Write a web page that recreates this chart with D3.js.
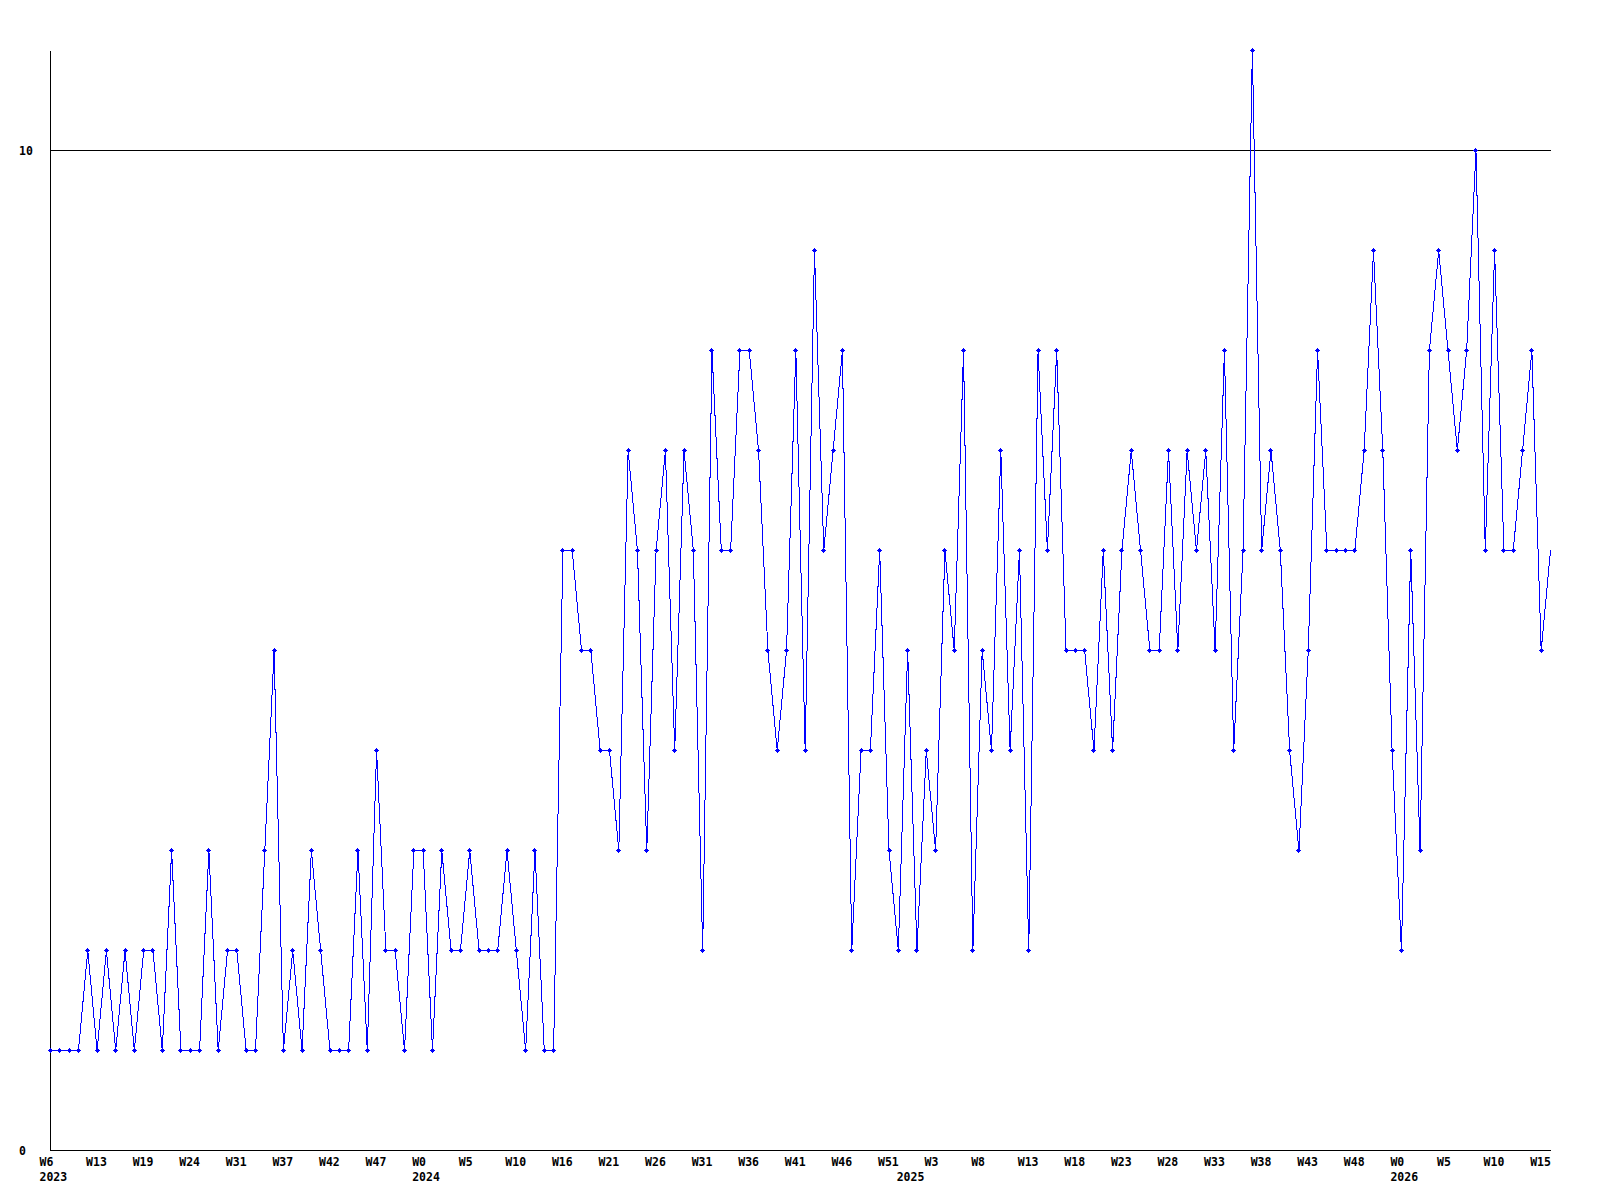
<!DOCTYPE html>
<html>
<head>
<meta charset="utf-8">
<script src="https://cdn.jsdelivr.net/npm/d3@7"></script>
<style>
  html, body { margin: 0; padding: 0; background: #ffffff; }
  svg { display: block; }
  text { font-family: "DejaVu Sans Mono", "Liberation Mono", monospace; font-weight: bold; font-size: 11.5px; fill: #000; }
</style>
</head>
<body>
<svg id="chart" width="1600" height="1200"></svg>
<script>
// ---- data ----
const values = [
  1,1,1,1,2,1,2,1,2,1,2,2,1,3,1,1,1,3,1,2,2,1,1,3,5,1,2,1,
  3,2,1,1,1,3,1,4,2,2,1,3,3,1,3,2,2,3,2,2,2,3,2,1,3,1,1,
  6,6,5,5,4,4,3,7,6,3,6,7,4,7,6,2,8,6,6,8,8,7,5,4,5,8,4,
  9,6,7,8,2,4,4,6,3,2,5,2,4,3,6,5,8,2,5,4,7,4,6,2,8,6,8,
  5,5,5,4,6,4,6,7,6,5,5,7,5,7,6,7,5,8,4,6,11,6,7,6,4,3,
  5,8,6,6,6,6,7,9,7,4,2,6,3,8,9,8,7,8,10,6,9,6,6,7,8,5,6
];
// one week label every 5th point
const tickLabels = ["W6","W13","W19","W24","W31","W37","W42","W47","W0","W5","W10",
  "W16","W21","W26","W31","W36","W41","W46","W51","W3","W8","W13","W18","W23",
  "W28","W33","W38","W43","W48","W0","W5","W10","W15"];
const labelEvery = 5;
// year labels, placed at the first point of each year
const yearLabels = ["2023", "2024", "2025", "2026"];
const yearStartIndex = [0, 40, 92, 145];
const yTicks = [0, 10];

// ---- layout ----
const svg = d3.select("#chart");
const pLeft = 50.5, pRight = 1551, pTop = 50.5, pBottom = 1150.5;

const x = d3.scaleLinear().domain([0, values.length - 1]).range([pLeft, pRight - 0.5]);
const y = d3.scaleLinear().domain([0, 10]).range([pBottom, 150.5]);

svg.append("defs").append("clipPath").attr("id", "mclip")
  .append("rect").attr("x", 0).attr("y", 0).attr("width", 1548).attr("height", 1200);

// grid line at 10
svg.append("g").selectAll("line").data(yTicks.filter(d => d !== 0)).join("line")
  .attr("x1", pLeft).attr("x2", pRight)
  .attr("y1", d => y(d)).attr("y2", d => y(d))
  .attr("stroke", "#000").attr("stroke-width", 1).attr("shape-rendering", "crispEdges");

// axes lines
svg.append("line").attr("x1", pLeft).attr("x2", pLeft).attr("y1", pTop).attr("y2", pBottom)
  .attr("stroke", "#000").attr("stroke-width", 1).attr("shape-rendering", "crispEdges");
svg.append("line").attr("x1", pLeft).attr("x2", pRight).attr("y1", pBottom).attr("y2", pBottom)
  .attr("stroke", "#000").attr("stroke-width", 1).attr("shape-rendering", "crispEdges");

// y tick labels
svg.append("g").selectAll("text").data(yTicks).join("text")
  .attr("x", 19).attr("y", d => y(d) + 4)
  .text(d => d);

// x tick labels
const xt = svg.append("g");
xt.selectAll("text.wk").data(tickLabels).join("text").attr("class", "wk")
  .attr("x", (d, i) => x(i * labelEvery) - 11)
  .attr("y", 1166)
  .text(d => d);
xt.selectAll("text.yr").data(yearLabels).join("text").attr("class", "yr")
  .attr("x", (d, i) => x(yearStartIndex[i]) - 11)
  .attr("y", 1181)
  .text(d => d);

// series line
const line = d3.line().x((d, i) => x(i)).y(d => y(d));
svg.append("path").datum(values)
  .attr("d", line)
  .attr("fill", "none").attr("stroke", "#0000ff").attr("stroke-width", 1)
  .attr("shape-rendering", "crispEdges");

// markers
svg.append("g").attr("clip-path", "url(#mclip)")
  .selectAll("path").data(values).join("path")
  .attr("transform", (d, i) => `translate(${x(i)},${y(d)})`)
  .attr("d", "M0,-2.5L2.5,0L0,2.5L-2.5,0Z")
  .attr("fill", "#0000ff")
  .attr("shape-rendering", "crispEdges");
</script>
</body>
</html>
